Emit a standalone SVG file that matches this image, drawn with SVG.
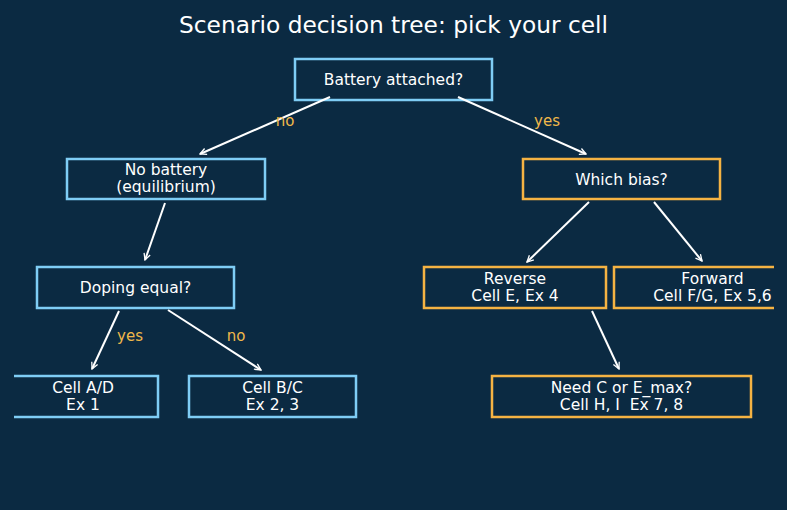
<svg xmlns="http://www.w3.org/2000/svg" width="787" height="510" viewBox="0 0 787 510">
  <defs>
    <marker id="arrow" viewBox="0 0 10 10" refX="9" refY="5" markerWidth="8" markerHeight="8" markerUnits="userSpaceOnUse" orient="auto">
      <path d="M1,1 L9,5 L1,9" fill="none" stroke="#ffffff" stroke-width="1.6"/>
    </marker>
    <clipPath id="plot">
      <rect x="14" y="0" width="760" height="510"/>
    </clipPath>
  </defs>
  <style>
    text { font-family: "DejaVu Sans", "Liberation Sans", sans-serif; fill: #ffffff; }
    .title { font-size: 23.3px; }
    .lbl { font-size: 15.5px; text-anchor: middle; }
    .edge-lbl { font-size: 15px; fill: #f0b84a; text-anchor: middle; }
    .box { fill: #0b2a42; stroke-width: 2.5; }
    .blue { stroke: #7fcdf5; }
    .orange { stroke: #f5b343; }
    .edge { stroke: #ffffff; stroke-width: 2; fill: none; marker-end: url(#arrow); }
  </style>

  <rect x="0" y="0" width="787" height="510" fill="#0b2a42"/>
  <text class="title" x="393.5" y="33" text-anchor="middle">Scenario decision tree: pick your cell</text>

  <g clip-path="url(#plot)">
    <g id="battery">
      <rect class="box blue" x="295" y="59" width="197" height="41"/>
      <text class="lbl" x="393.5" y="85">Battery attached?</text>
    </g>
    <g id="no-battery">
      <rect class="box blue" x="67" y="159" width="198" height="40"/>
      <text class="lbl" x="166" y="175">No battery</text>
      <text class="lbl" x="166" y="192">(equilibrium)</text>
    </g>
    <g id="which-bias">
      <rect class="box orange" x="523" y="159" width="197" height="40"/>
      <text class="lbl" x="621.5" y="185">Which bias?</text>
    </g>
    <g id="doping">
      <rect class="box blue" x="37" y="267" width="197" height="41"/>
      <text class="lbl" x="135.5" y="293">Doping equal?</text>
    </g>
    <g id="reverse">
      <rect class="box orange" x="424" y="267" width="182" height="41"/>
      <text class="lbl" x="515" y="284">Reverse</text>
      <text class="lbl" x="515" y="301">Cell E, Ex 4</text>
    </g>
    <g id="forward">
      <rect class="box orange" x="614" y="267" width="197" height="41"/>
      <text class="lbl" x="712.5" y="284">Forward</text>
      <text class="lbl" x="712.5" y="301">Cell F/G, Ex 5,6</text>
    </g>
    <g id="cell-ad">
      <rect class="box blue" x="8" y="376" width="150" height="41"/>
      <text class="lbl" x="83" y="393">Cell A/D</text>
      <text class="lbl" x="83" y="410">Ex 1</text>
    </g>
    <g id="cell-bc">
      <rect class="box blue" x="189" y="376" width="167" height="41"/>
      <text class="lbl" x="272.5" y="393">Cell B/C</text>
      <text class="lbl" x="272.5" y="410">Ex 2, 3</text>
    </g>
    <g id="need-c">
      <rect class="box orange" x="492" y="376" width="259" height="41"/>
      <text class="lbl" x="621.5" y="393">Need C or E_max?</text>
      <text class="lbl" x="621.5" y="410" xml:space="preserve">Cell H, I  Ex 7, 8</text>
    </g>

    <g id="connectors">
      <line class="edge" x1="330" y1="97" x2="200" y2="154"/>
      <line class="edge" x1="458" y1="97" x2="586" y2="154"/>
      <line class="edge" x1="165" y1="203" x2="145" y2="260"/>
      <line class="edge" x1="119" y1="311" x2="92" y2="369"/>
      <line class="edge" x1="168" y1="310" x2="261" y2="370"/>
      <line class="edge" x1="589" y1="202" x2="527" y2="262"/>
      <line class="edge" x1="654" y1="202" x2="702" y2="261"/>
      <line class="edge" x1="592" y1="311" x2="619" y2="369"/>
      <text class="edge-lbl" x="285" y="126">no</text>
      <text class="edge-lbl" x="547" y="126">yes</text>
      <text class="edge-lbl" x="130" y="341">yes</text>
      <text class="edge-lbl" x="236" y="341">no</text>
    </g>
  </g>
</svg>
